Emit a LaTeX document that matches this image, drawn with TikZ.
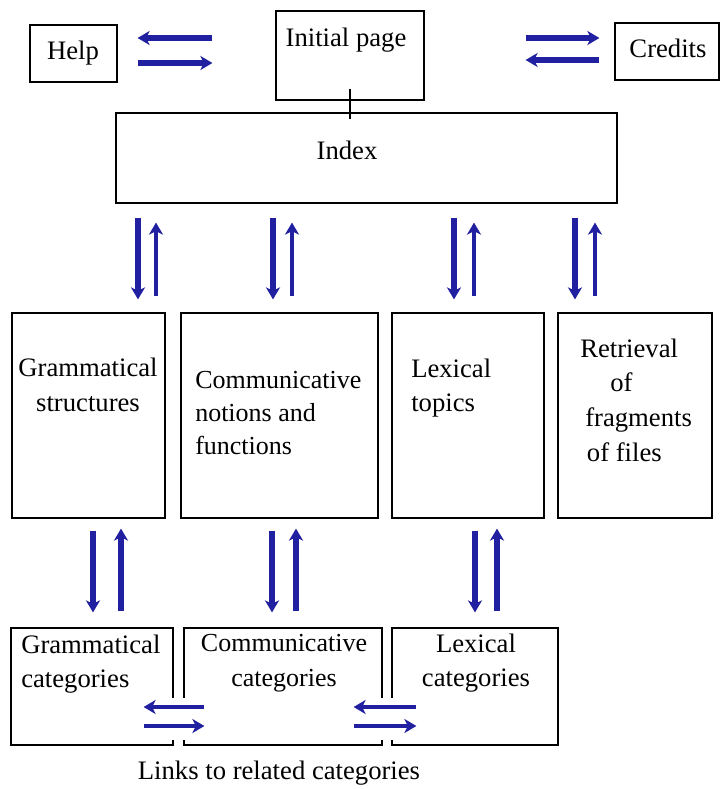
\documentclass[tikz,border=0pt]{standalone}
\usepackage{fontspec}
\setmainfont{Liberation Serif}
\newfontfamily\diagfont{Liberation Serif}
\usetikzlibrary{positioning, calc}
\usetikzlibrary{arrows.meta}
\definecolor{myblue}{RGB}{32,32,160}
\tikzset{
  box/.style={draw, line width=0.9pt, inner sep=0pt},
  txt/.style={inner sep=0pt, align=left},
  bar/.style={line width=3.8pt, draw=myblue, -{Stealth[length=9pt,width=10.5pt,inset=2.5pt]}}
}

\begin{document}
\begin{tikzpicture}[x=0.75pt, y=-0.75pt, font=\diagfont\fontsize{20}{26}\selectfont]
  \useasboundingbox (0,0) rectangle (721,789);

  % Top row
  \node[box, minimum width=65.25pt, minimum height=42.75pt] (help) at (73.5,53.5) {};
  \node[box, minimum width=111pt, minimum height=66.75pt] (init) at (350,55.5) {};
  \node[box, minimum width=78pt, minimum height=42.75pt] (credits) at (667,51.5) {};
  \node[txt] (helptxt) at (73,53) {Help};
  \node[txt] (inittxt) at (346,40) {Initial page};
  \node[txt] (creditstxt) at (668,48) {Credits};

  % Index
  \node[box, minimum width=375.75pt, minimum height=67.5pt] (index) at (366.5,158) {};
  \node[txt] (indextxt) at (347,150) {Index};
  \draw[line width=0.9pt, shorten <=-9pt, shorten >=-5pt] (init.south) -- (index.north -| init.south);

  % Middle row
  \node[box, minimum width=114.75pt, minimum height=153.75pt] (gs) at (88.5,415.5) {};
  \node[box, minimum width=147.75pt, minimum height=153.75pt] (cn) at (279.5,415.5) {};
  \node[box, minimum width=114pt, minimum height=153.75pt] (lt) at (468,415.5) {};
  \node[box, minimum width=115.5pt, minimum height=153.75pt] (rf) at (635,415.5) {};
  \node[txt, align=center] (gstxt) at (88,385) {Grammatical\\structures};
  \node[txt, anchor=west, font=\diagfont\fontsize{19.5}{25}\selectfont] (cntxt) at (195,413) {Communicative\\notions and\\functions};
  \node[txt, anchor=west] (lttxt) at (411,388) {Lexical\\topics};
  \node[txt, anchor=west] (rftxt) at (580,400) {Retrieval\\\hspace{22.5pt}of\\\hspace{3.75pt}fragments\\\hspace{5pt}of files};

  % Bottom row
  \node[box, minimum width=121.5pt, minimum height=87.75pt] (gc) at (92,686.5) {};
  \node[box, minimum width=148.5pt, minimum height=87.75pt] (cc) at (283,686.5) {};
  \node[box, minimum width=124.5pt, minimum height=87.75pt] (lc) at (475,686.5) {};
  \fill[white] (169,698) rectangle (188,740);
  \fill[white] (378,698) rectangle (396,740);
  \node[txt, anchor=west] (gctxt) at (21,664) {Grammatical\\categories};
  \node[txt, align=center, font=\diagfont\fontsize{19.5}{26}\selectfont] (cctxt) at (284,663) {Communicative\\categories};
  \node[txt, align=center] (lctxt) at (476,663) {Lexical\\categories};
  \node[txt] (links) at (279,773) {Links to related categories};

  % Arrows, top row
  \draw[bar, shorten <=47.25pt, shorten >=15pt] (init.west |- 0,38) -- (help.east |- 0,38);
  \draw[bar, shorten <=15pt, shorten >=47.25pt] (help.east |- 0,63) -- (init.west |- 0,63);
  \draw[bar, shorten <=75.75pt, shorten >=11.25pt] (init.east |- 0,38) -- (credits.west |- 0,38);
  \draw[bar, shorten <=11.25pt, shorten >=75.75pt] (credits.west |- 0,60) -- (init.east |- 0,60);

  % Arrows, index to middle row
  \foreach \d/\u/\b in {138/156/gs, 273/292/cn, 454/474/lt, 575/595/rf}{
    \draw[bar, line width=4.4pt, shorten <=10.5pt, shorten >=9.75pt] (index.south -| \d,0) -- (\b.north -| \d,0);
    \draw[bar, line width=3pt, shorten <=12pt, shorten >=14.25pt] (\b.north -| \u,0) -- (index.south -| \u,0);
  }

  % Arrows, middle row to bottom row
  \foreach \d/\u/\a/\b in {93/121/gs/gc, 272/296/cn/cc, 475/497/lt/lc}{
    \draw[bar, shorten <=9pt, shorten >=11.25pt] (\a.south -| \d,0) -- (\b.north -| \d,0);
    \draw[bar, line width=4.4pt, shorten <=12pt, shorten >=7.5pt] (\b.north -| \u,0) -- (\a.south -| \u,0);
  }

  % Links between categories
  \draw[bar, line width=3pt, shorten <=-15.75pt, shorten >=-22.5pt] (cc.west |- 0,707) -- (gc.east |- 0,707);
  \draw[bar, line width=3pt, shorten <=-22.5pt, shorten >=-15.75pt] (gc.east |- 0,726) -- (cc.west |- 0,726);
  \draw[bar, line width=3pt, shorten <=-18.75pt, shorten >=-21.75pt] (lc.west |- 0,707) -- (cc.east |- 0,707);
  \draw[bar, line width=3pt, shorten <=-21.75pt, shorten >=-18.75pt] (cc.east |- 0,726) -- (lc.west |- 0,726);
\end{tikzpicture}
\end{document}
